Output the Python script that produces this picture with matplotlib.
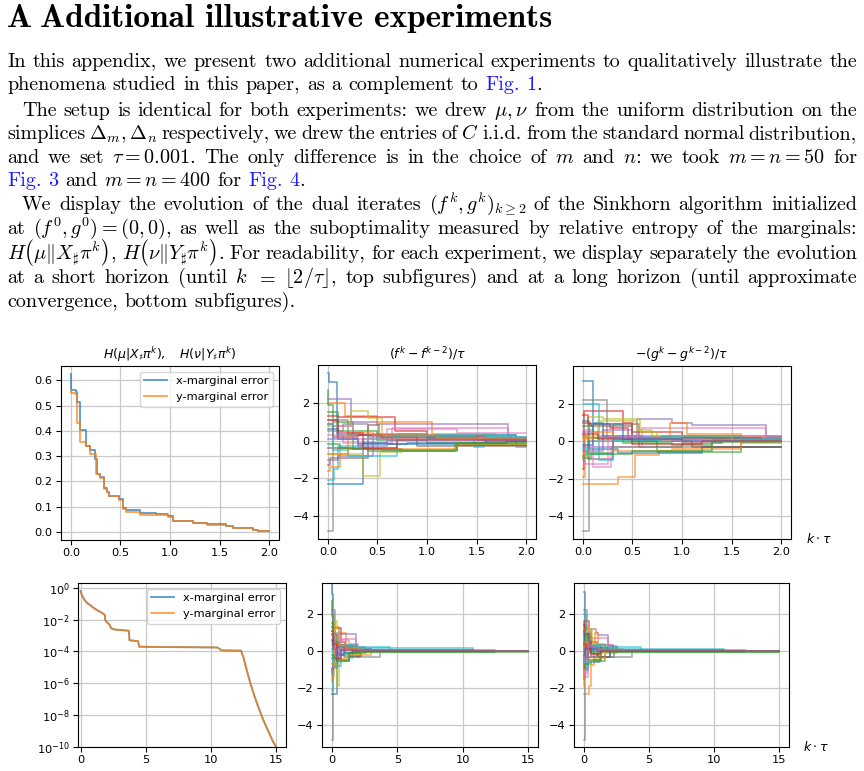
import re
import numpy as np
import matplotlib
matplotlib.use('Agg')
import matplotlib.pyplot as plt
from matplotlib.ticker import NullLocator

# ---- page text ----
heading_num = 'A'
heading = 'Additional illustrative experiments'

# one entry per printed line: (text, indent, justify); @...@ marks blue link text
page_lines = [
    (r'In this appendix, we present two additional numerical experiments to qualitatively illustrate the', False, True),
    (r'phenomena studied in this paper, as a complement to @Fig.@ @1@.', False, False),
    (r'The setup is identical for both experiments: we drew $\mu,\nu$ from the uniform distribution on the', True, True),
    (r'simplices $\Delta_m,\Delta_n$ respectively, we drew the entries of $C$ i.i.d. from the standard normal distribution,', False, True),
    (r'and we set $\tau=0.001$. The only difference is in the choice of $m$ and $n$: we took $m=n=50$ for', False, True),
    (r'@Fig.@ @3@ and $m=n=400$ for @Fig.@ @4@.', False, False),
    (r'We display the evolution of the dual iterates $(f^k,g^k)_{k\geq2}$ of the Sinkhorn algorithm initialized', True, True),
    (r'at $(f^0,g^0)=(0,0)$, as well as the suboptimality measured by relative entropy of the marginals:', False, True),
    (r'$H\left(\mu\|X_\sharp\pi^k\right)$, $H\left(\nu\|Y_\sharp\pi^k\right)$. For readability, for each experiment, we display separately the evolution', False, True),
    (r'at a short horizon (until $k$ $=$ $\lfloor2/\tau\rfloor$, top subfigures) and at a long horizon (until approximate', False, True),
    (r'convergence, bottom subfigures).', False, False),
]
line_baselines = [67, 90, 116, 139, 163, 186, 210, 234, 259, 283, 307]

# ---- marginal errors, short horizon (k*tau, value), steps ----
err_x_t = [0.0, 0.004, 0.05, 0.064, 0.09, 0.15, 0.19, 0.24, 0.26, 0.29, 0.33, 0.36, 0.38, 0.49,
           0.53, 0.56, 0.70, 0.86, 0.98, 1.03, 1.23, 1.37, 1.57, 1.64, 1.84, 1.89]
err_x_v = [0.626, 0.563, 0.554, 0.515, 0.405, 0.34, 0.325, 0.29, 0.23, 0.217, 0.173, 0.16, 0.143, 0.13,
           0.095, 0.088, 0.077, 0.072, 0.062, 0.045, 0.038, 0.031, 0.025, 0.018, 0.009, 0.004]
err_y_t = [0.0, 0.004, 0.04, 0.064, 0.09, 0.15, 0.19, 0.25, 0.29, 0.33, 0.36, 0.38, 0.49,
           0.53, 0.56, 0.70, 0.98, 1.03, 1.23, 1.37, 1.57, 1.64, 1.84, 1.89]
err_y_v = [0.56, 0.55, 0.545, 0.43, 0.357, 0.34, 0.31, 0.23, 0.215, 0.17, 0.158, 0.142, 0.128,
           0.092, 0.081, 0.068, 0.058, 0.044, 0.037, 0.030, 0.024, 0.017, 0.008, 0.004]

# ---- marginal errors, long horizon (log10 of value) ----
long_t = [0.0, 0.1, 0.3, 0.5, 0.8, 1.0, 1.3, 1.6, 1.85, 1.9, 2.0, 2.2, 2.35, 2.6, 3.0, 3.7, 3.75, 4.4,
          4.5, 6.0, 8.0, 10.5, 10.8, 12.3, 12.5, 12.75, 13.0, 13.25, 13.5, 13.75, 14.0, 14.25, 14.5, 14.75, 15.0]
long_x_log = [-0.2, -0.45, -0.75, -0.95, -1.12, -1.25, -1.42, -1.55, -1.7, -2.05, -2.15, -2.3, -2.55, -2.62,
              -2.65, -2.7, -3.3, -3.35, -3.7, -3.72, -3.73, -3.75, -3.93, -3.95, -4.4, -5.2, -5.95, -6.6,
              -7.2, -7.75, -8.28, -8.75, -9.2, -9.65, -10.0]
long_y_log = [-0.26, -0.5, -0.78, -0.97, -1.15, -1.28, -1.43, -1.56, -1.7, -2.05, -2.15, -2.3, -2.55, -2.62,
              -2.65, -2.7, -3.3, -3.35, -3.7, -3.72, -3.73, -3.75, -3.93, -3.95, -4.4, -5.2, -5.95, -6.6,
              -7.2, -7.75, -8.28, -8.75, -9.2, -9.65, -10.0]

# ---- (f^k - f^{k-2})/tau : step breakpoints and levels per coordinate ----
f_breaks = [
    [0, 0.01, 0.09, 1.0, 1.85, 3.0],
    [0, 0.17, 0.5, 1.05, 1.7, 2.4],
    [0, 0.005, 0.05, 0.25, 0.75, 1.28, 2.2, 12.5],
    [0, 0.1, 0.68, 1.0, 1.6, 3.0],
    [0, 0.23, 0.5, 1.82, 1.9, 2.5],
    [0, 0.02, 0.40, 0.52, 0.9, 2.1],
    [0, 0.15, 0.65, 1.82, 1.9, 3.0],
    [0, 0.05, 0.2, 1.9, 3.7],
    [0, 0.23, 0.4, 0.55, 1.0, 2.5],
    [0, 0.06, 0.1, 0.35, 0.6, 1.47, 1.58, 4.4],
    [0, 0.35, 0.6, 1.6, 10.8],
    [0, 0.02, 0.12, 0.7, 1.3, 3.0],
    [0, 0.1, 0.5, 1.0, 1.8, 15.0],
    [0, 0.05, 0.3, 0.55, 1.5, 2.2],
    [0, 0.1, 0.45, 1.0, 2.0, 10.8],
    [0, 0.2, 0.55, 1.3, 2.2],
    [0, 0.05, 0.25, 0.6, 1.3, 2.0],
    [0, 0.15, 0.4, 1.0, 2.0],
    [0, 0.35, 0.53, 0.75, 1.3, 2.2],
    [0, 0.05, 0.2, 0.7, 1.0, 1.9, 10.8],
    [0, 0.1, 0.3, 0.8, 1.8],
    [0, 0.2, 0.45, 1.1, 2.0],
    [0, 0.12, 0.4, 1.3, 2.6],
    [0, 0.1, 0.35, 0.7, 1.6],
    [0, 0.3, 0.6, 1.3, 12.5],
]
f_levels = [
    [3.6, 3.1, 0.3, 0.25, 0.1, 0.0],
    [2.0, 1.3, 1.0, 0.35, 0.15, 0.0],
    [2.7, 1.9, 1.0, -0.45, -0.55, -0.25, -0.05, 0.0],
    [1.3, 1.25, 0.5, 0.2, 0.1, 0.0],
    [2.2, 1.0, 0.9, 0.3, 0.2, 0.0],
    [-1.3, -0.9, 0.85, 0.2, -0.3, 0.0],
    [0.3, -0.1, 0.65, 0.2, 0.1, 0.0],
    [-4.8, 1.1, 0.3, -0.33, 0.0],
    [0.8, 1.6, 1.2, 0.2, 0.1, 0.0],
    [-2.1, -1.5, -0.3, 0.1, 0.25, -0.35, 0.2, 0.0],
    [-2.3, -0.1, -0.2, 0.08, 0.0],
    [-1.6, -1.4, -0.4, -0.45, -0.2, 0.0],
    [1.5, 0.5, 0.05, -0.1, -0.05, 0.0],
    [0.9, 0.2, 0.3, 0.15, 0.05, 0.0],
    [-1.0, -0.8, 0.35, 0.15, 0.06, 0.0],
    [-0.4, -0.45, -0.5, -0.25, 0.0],
    [1.1, 0.8, 0.1, 0.6, 0.4, 0.0],
    [0.5, 0.9, 0.2, 0.1, 0.0],
    [-0.7, -1.9, -0.6, -0.5, -0.2, 0.0],
    [0.9, -0.5, -0.8, 0.35, 0.3, 0.15, 0.0],
    [0.6, 0.1, -0.2, -0.1, 0.0],
    [-0.7, 0.4, 0.3, 0.15, 0.0],
    [-0.2, -0.4, -0.55, -0.1, 0.0],
    [1.1, 0.4, -0.4, 0.05, 0.0],
    [0.1, -0.3, 0.05, 0.03, 0.0],
]

# ---- -(g^k - g^{k-2})/tau ----
g_breaks = [
    [0, 0.1, 0.2, 0.6, 1.3, 2.6],
    [0, 0.35, 0.53, 0.77, 1.2, 1.6, 2.5],
    [0, 0.03, 0.3, 0.75, 1.6, 2.3, 15.0],
    [0, 0.01, 0.4, 0.5, 1.0, 2.2],
    [0, 0.15, 0.55, 0.9, 1.1, 1.85, 2.5],
    [0, 0.05, 0.3, 0.57, 1.0, 1.4],
    [0, 0.1, 0.28, 0.6, 1.85, 2.4],
    [0, 0.06, 0.3, 1.5, 3.7],
    [0, 0.05, 0.2, 0.58, 0.75, 1.4],
    [0, 0.16, 0.3, 0.55, 1.3, 4.4],
    [0, 0.06, 0.35, 1.2, 2.0, 10.8],
    [0, 0.02, 0.35, 0.88, 1.05, 1.6, 3.0],
    [0, 0.1, 0.4, 0.9, 1.3, 15.0],
    [0, 0.05, 0.27, 0.45, 1.0, 1.8],
    [0, 0.2, 0.5, 1.3, 10.8],
    [0, 0.08, 0.5, 1.1, 2.0],
    [0, 0.02, 0.25, 0.6, 1.2],
    [0, 0.24, 0.6, 2.0],
    [0, 0.15, 0.55, 0.7, 1.5],
    [0, 0.04, 0.3, 0.8, 1.6, 10.8],
    [0, 0.1, 0.4, 1.0],
    [0, 0.1, 0.3, 0.9, 1.6],
    [0, 0.08, 0.5, 1.3],
    [0, 0.15, 0.5, 1.2],
    [0, 0.3, 0.9, 12.5],
]
g_levels = [
    [3.2, 1.0, 0.3, 0.2, 0.15, 0.0],
    [-2.3, -1.9, -0.75, -0.5, -0.3, -0.1, 0.0],
    [-0.8, -0.6, 0.0, -0.55, -0.3, -0.05, 0.0],
    [-1.5, 1.6, 1.0, 0.5, 0.3, 0.0],
    [0.5, 0.3, 1.2, 1.0, 0.85, 0.25, 0.0],
    [0.3, -0.95, 0.9, -0.3, -0.1, 0.0],
    [0.6, -1.4, -0.3, 0.7, 0.2, 0.0],
    [-4.8, 0.0, -0.3, -0.33, 0.0],
    [-0.7, 1.3, 1.2, 0.5, 0.1, 0.0],
    [2.0, -1.0, 0.3, 0.25, 0.2, 0.0],
    [1.1, -0.4, -0.6, -0.3, 0.08, 0.0],
    [-1.9, 0.2, 0.1, 1.0, 0.4, 0.1, 0.0],
    [0.8, 0.2, -0.1, -0.2, -0.05, 0.0],
    [1.4, 0.9, 0.7, 0.1, 0.15, 0.0],
    [-0.5, 0.6, 0.3, 0.06, 0.0],
    [1.0, 0.8, 0.0, -0.3, 0.0],
    [-1.0, -1.2, 0.3, 0.1, 0.0],
    [2.2, 0.2, 0.1, 0.0],
    [0.3, 1.1, 0.6, 0.3, 0.0],
    [-0.4, -0.7, 0.05, 0.3, 0.1, 0.0],
    [-0.2, 0.9, 0.1, 0.0],
    [0.2, 0.5, -0.5, -0.4, 0.0],
    [-0.9, -0.7, -0.5, 0.0],
    [0.4, 0.1, -0.15, 0.0],
    [-0.3, 0.2, 0.04, 0.0],
]

W, H = 864, 771
fig = plt.figure(figsize=(W / 100, H / 100), dpi=100)
renderer = fig.canvas.get_renderer()

plt.rcParams.update({
    'font.size': 8.2,
    'axes.linewidth': 0.8,
    'xtick.major.size': 3.5, 'ytick.major.size': 3.5,
    'xtick.major.width': 0.8, 'ytick.major.width': 0.8,
    'xtick.major.pad': 2.5, 'ytick.major.pad': 2.5,
    'grid.color': '#c8c8c8', 'grid.linewidth': 0.9,
})


def fx(x):
    return x / W


def fy(y):
    return 1 - y / H


# ---- text block ----
BODY = dict(fontfamily='cmr10', fontsize=14.5, math_fontfamily='cm')
LINK = '#1a1aff'
SPACE = 0.333 * BODY['fontsize'] * 100 / 72

fig.text(fx(7), fy(27), heading_num, fontfamily='cmb10', fontsize=24, va='baseline')
fig.text(fx(40), fy(27), heading, fontfamily='cmb10', fontsize=24, va='baseline')


def text_line(y, line, x0, x1, justify):
    tokens = re.findall(r'(?:\$[^$]*\$|[^\s$])+', line)
    placed = []
    for tok in tokens:
        objs, ww = [], 0
        for j, part in enumerate(tok.split('@')):
            if not part:
                continue
            t = fig.text(0, fy(y), part, color=LINK if j % 2 else 'black',
                         va='baseline', ha='left', **BODY)
            w = t.get_window_extent(renderer).width
            objs.append((t, ww))
            ww += w
        placed.append((objs, ww))
    total = sum(w for _, w in placed)
    gap = (x1 - x0 - total) / (len(placed) - 1) if justify else SPACE
    x = x0
    for objs, ww in placed:
        for t, off in objs:
            t.set_x(fx(x + off))
        x += ww + gap


for (line, indent, just), yb in zip(page_lines, line_baselines):
    text_line(yb, line, 22 if indent else 7, 857, just)


# ---- plots ----
def box(l, t, r, b):
    return [l / W, 1 - b / H, (r - l) / W, (b - t) / H]


def stair(ts, vs, t_end):
    t = np.asarray(ts, float)
    v = np.asarray(vs, float)
    m = t < t_end
    return np.append(t[m], t_end), np.append(v[m], v[m][-1])


def dual_panel(ax, breaks, levels, t_end):
    for b, lv in zip(breaks, levels):
        t, v = stair(b, lv, t_end)
        ax.step(t, v, where='post', lw=1.2, alpha=0.65)
    ax.grid(True)
    ax.set_yticks([-4, -2, 0, 2])


TITLE = 9

ax1 = fig.add_axes(box(61, 366, 279, 540))
t, v = stair(err_x_t, err_x_v, 2.0)
ax1.step(t, v, where='post', lw=1.3, alpha=0.75, label='x-marginal error')
t, v = stair(err_y_t, err_y_v, 2.0)
ax1.step(t, v, where='post', lw=1.3, alpha=0.75, label='y-marginal error')
ax1.set_yticks(np.arange(0, 0.61, 0.1))
ax1.set_ylim(-0.031, 0.656)
ax1.grid(True)
ax1.legend(loc='upper right', fontsize=8.2)
ax1.set_title(r'$H(\mu|X_\sharp\pi^k),\quad H(\nu|Y_\sharp\pi^k)$', fontsize=TITLE, pad=5)

ax2 = fig.add_axes(box(318, 365, 536, 539))
dual_panel(ax2, f_breaks, f_levels, 2.0)
ax2.set_ylim(-5.22, 4.02)
ax2.set_title(r'$(f^k - f^{k-2})/\tau$', fontsize=TITLE, pad=5)

ax3 = fig.add_axes(box(573, 366, 791, 539))
dual_panel(ax3, g_breaks, g_levels, 2.0)
ax3.set_ylim(-5.22, 4.02)
ax3.set_title(r'$-(g^k - g^{k-2})/\tau$', fontsize=TITLE, pad=5)

for ax in (ax1, ax2, ax3):
    ax.set_xticks([0.0, 0.5, 1.0, 1.5, 2.0])

ax4 = fig.add_axes(box(78, 583, 286, 747))
ax4.plot(long_t, 10 ** np.array(long_x_log), lw=1.3, alpha=0.75, label='x-marginal error')
ax4.plot(long_t, 10 ** np.array(long_y_log), lw=1.3, alpha=0.75, label='y-marginal error')
ax4.set_yscale('log')
ax4.set_yticks([1e0, 1e-2, 1e-4, 1e-6, 1e-8, 1e-10])
ax4.yaxis.set_minor_locator(NullLocator())
ax4.set_ylim(1e-10, 2.0)
ax4.set_xlim(-0.2, 15.75)
ax4.grid(True)
ax4.legend(loc='upper right', fontsize=8.2)

ax5 = fig.add_axes(box(322, 583, 538, 747))
dual_panel(ax5, f_breaks, f_levels, 15.0)
ax5.set_ylim(-5.19, 3.68)

ax6 = fig.add_axes(box(574, 583, 789, 747))
dual_panel(ax6, g_breaks, g_levels, 15.0)
ax6.set_ylim(-5.19, 3.68)

for ax in (ax4, ax5, ax6):
    ax.set_xticks([0, 5, 10, 15])
for ax in (ax5, ax6):
    ax.set_xlim(-0.77, 15.77)

fig.text(fx(806), fy(539), r'$k \cdot \tau$', fontsize=TITLE, va='center')
fig.text(fx(803), fy(747), r'$k \cdot \tau$', fontsize=TITLE, va='center')

fig.savefig('out.png', dpi=100)
